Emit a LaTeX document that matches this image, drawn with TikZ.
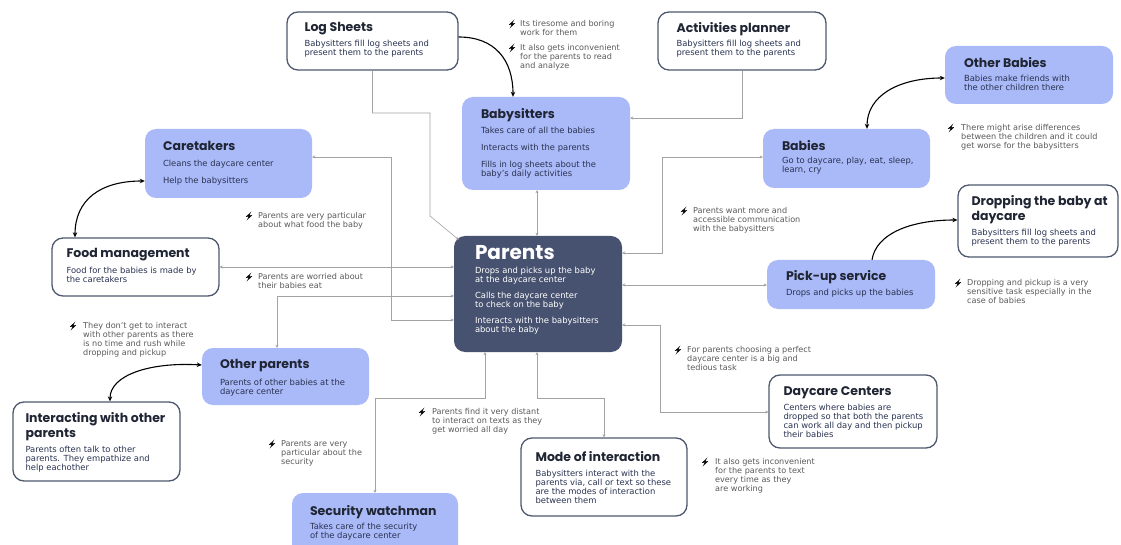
\documentclass[tikz,border=0pt]{standalone}
\usepackage{fontspec}
\setmainfont{DejaVu Sans}
\newfontfamily\headfont{Poppins}
\usetikzlibrary{arrows.meta,calc}

\definecolor{cardblue}{HTML}{AAB9F7}
\definecolor{navy}{HTML}{475270}
\definecolor{rim}{HTML}{4E586E}
\definecolor{ink}{HTML}{1F2533}
\definecolor{inkblue}{HTML}{2A3352}
\definecolor{note}{HTML}{5A5A5A}
\definecolor{wire}{HTML}{A3A3A3}

\tikzset{
  box/.style n args={4}{minimum width={#3-#1}, minimum height={#4-#2},
    at={({(#1+#3)/2},{(#2+#4)/2})}},
  card/.style={rectangle, rounded corners=11pt, inner sep=0pt},
  plaincard/.style={card, draw=rim, line width=1.3pt, fill=white},
  softcard/.style={card, fill=cardblue},
  darkcard/.style={card, fill=navy},
  cardhead/.style={anchor=north west, inner sep=0pt, align=left, text=ink,
    font=\headfont\bfseries\fontsize{12.5}{15}\selectfont},
  cardbody/.style={anchor=north west, inner sep=0pt, align=left, text=inkblue,
    font=\fontsize{8.4}{9}\selectfont},
  note/.style={anchor=north west, inner sep=0pt, align=left, text=note,
    font=\fontsize{8.1}{9}\selectfont},
  tip/.tip={Stealth[length=3pt,width=3pt]},
  wire/.style={draw=wire, line width=0.6pt, -tip},
  wirepair/.style={draw=wire, line width=0.6pt, tip-tip},
  bigtip/.tip={Stealth[length=5pt,width=4.5pt]},
  swoop/.style={draw=black, line width=1.1pt, -bigtip},
  swooppair/.style={draw=black, line width=1.1pt, bigtip-bigtip},
  bolt/.pic={\fill[black] (2.4,-4.6) -- (-3.2,0.9) -- (-0.3,0.6) -- (-2.4,4.6)
    -- (3.2,-0.9) -- (0.3,-0.6) -- cycle;}
}

\begin{document}
\begin{tikzpicture}[x=1pt,y=-1pt]
\fill[white] (0,0) rectangle (1121,545);
\useasboundingbox (0,0) rectangle (1121,545);

% ---------- cards ----------
\node[plaincard, box={287}{12}{458}{70}] (logs) {};
\node[cardhead] (logs-h) at ($(logs.north west)+(18,11)$) {Log Sheets};
\node[cardbody] (logs-b) at ($(logs.north west)+(18,29)$) {Babysitters fill log sheets and\\present them to the parents};

\node[plaincard, box={658}{12}{826}{70}] (act) {};
\node[cardhead] (act-h) at ($(act.north west)+(19,11)$) {Activities planner};
\node[cardbody] (act-b) at ($(act.north west)+(19,29)$) {Babysitters fill log sheets and\\present them to the parents};

\node[softcard, box={462}{97}{630}{190}] (sit) {};
\node[cardhead] (sit-h) at ($(sit.north west)+(19,11)$) {Babysitters};
\node[cardbody] (sit-b) at ($(sit.north west)+(19,30)$) {Takes care of all the babies\\[8pt]Interacts with the parents\\[8pt]Fills in log sheets about the\\baby's daily activities};

\node[softcard, box={145}{129}{312}{198}] (care) {};
\node[cardhead] (care-h) at ($(care.north west)+(18,12)$) {Caretakers};
\node[cardbody] (care-b) at ($(care.north west)+(18,31)$) {Cleans the daycare center\\[8pt]Help the babysitters};

\node[softcard, box={945}{46}{1113}{104}] (obab) {};
\node[cardhead] (obab-h) at ($(obab.north west)+(19,11)$) {Other Babies};
\node[cardbody] (obab-b) at ($(obab.north west)+(19,29)$) {Babies make friends with\\the other children there};

\node[softcard, box={763}{129}{930}{188}] (bab) {};
\node[cardhead] (bab-h) at ($(bab.north west)+(19,11)$) {Babies};
\node[cardbody] (bab-b) at ($(bab.north west)+(19,28)$) {Go to daycare, play, eat, sleep,\\learn, cry};

\node[plaincard, box={958}{185}{1118}{257}] (drop) {};
\node[cardhead] (drop-h) at ($(drop.north west)+(14,11)$) {Dropping the baby at\\daycare};
\node[cardbody] (drop-b) at ($(drop.north west)+(14,45)$) {Babysitters fill log sheets and\\present them to the parents};

\node[plaincard, box={52}{238}{219}{296}] (food) {};
\node[cardhead] (food-h) at ($(food.north west)+(15,11)$) {Food management};
\node[cardbody] (food-b) at ($(food.north west)+(15,30)$) {Food for the babies is made by\\the caretakers};

\node[darkcard, box={454}{236}{622}{352}] (par) {};
\node[cardhead, text=white, font=\headfont\bfseries\fontsize{20}{22}\selectfont] (par-h) at ($(par.north west)+(21,9)$) {Parents};
\node[cardbody, text=white] (par-b) at ($(par.north west)+(21,31)$) {Drops and picks up the baby\\at the daycare center\\[7pt]Calls the daycare center\\to check on the baby\\[7pt]Interacts with the babysitters\\about the baby};

\node[softcard, box={767}{260}{935}{309}] (pick) {};
\node[cardhead] (pick-h) at ($(pick.north west)+(19,10)$) {Pick-up service};
\node[cardbody] (pick-b) at ($(pick.north west)+(19,29)$) {Drops and picks up the babies};

\node[softcard, box={202}{348}{369}{405}] (opar) {};
\node[cardhead] (opar-h) at ($(opar.north west)+(18,11)$) {Other parents};
\node[cardbody] (opar-b) at ($(opar.north west)+(18,31)$) {Parents of other babies at the\\daycare center};

\node[plaincard, box={13}{402}{180}{481}] (inter) {};
\node[cardhead] (inter-h) at ($(inter.north west)+(13,11)$) {Interacting with other\\parents};
\node[cardbody] (inter-b) at ($(inter.north west)+(13,45)$) {Parents often talk to other\\parents. They empathize and\\help eachother};

\node[plaincard, box={769}{375}{937}{448}] (day) {};
\node[cardhead] (day-h) at ($(day.north west)+(15,12)$) {Daycare Centers};
\node[cardbody] (day-b) at ($(day.north west)+(15,30)$) {Centers where babies are\\dropped so that both the parents\\can work all day and then pickup\\their babies};

\node[plaincard, box={521}{438}{687}{516}] (mode) {};
\node[cardhead] (mode-h) at ($(mode.north west)+(15,14)$) {Mode of interaction};
\node[cardbody] (mode-b) at ($(mode.north west)+(15,33)$) {Babysitters interact with the\\parents via, call or text so these\\are the modes of interaction\\between them};

\node[softcard, box={292}{493}{458}{560}] (sec) {};
\node[cardhead] (sec-h) at ($(sec.north west)+(18,12)$) {Security watchman};
\node[cardbody] (sec-b) at ($(sec.north west)+(18,30)$) {Takes care of the security\\of the daycare center};

% ---------- grey connectors ----------
\draw[wire] (logs.south) -- (logs.south |- 0,113) -- (430,113) -- (430,216) -- ($(par.north west)+(5,4)$);
\draw[wire] (act.south) -- (act.south |- 0,118) -- (sit.east |- 0,118);
\draw[wirepair] (par.north -| 537,0) -- (sit.south -| 537,0);
\draw[wirepair] (par.west |- 0,320) -- (391,320) -- (391,157) -- (care.east |- 0,157);
\draw[wirepair] (par.west |- 0,267) -- (food.east |- 0,267);
\draw[wirepair] (par.west |- 0,296) -- (277,296) -- (opar.north -| 277,0);
\draw[wirepair] (par.east |- 0,253) -- (662,253) -- (662,157) -- (bab.west |- 0,157);
\draw[wirepair] (par.east |- 0,285) -- (pick.west |- 0,285);
\draw[wirepair] (par.east |- 0,325) -- (660,325) -- (660,412) -- (day.west |- 0,412);
\draw[wirepair] (par.south -| 537,0) -- (537,398) -- (604,398) -- (mode.north);
\draw[wirepair] (par.south -| 485,0) -- (485,398) -- (375,398) -- (sec.north);

% ---------- black curved links ----------
\draw[swoop] (logs.east |- 0,37) .. controls (495,37) and (513,60) .. (sit.north -| 513,0);
\draw[swooppair] (bab.north -| 867,0) .. controls (867,96) and (898,78) .. (obab.west |- 0,78);
\draw[swooppair] (care.west |- 0,181) .. controls (100,181) and (75,200) .. (food.north -| 75,0);
\draw[swoop] (pick.north -| 872,0) .. controls (876,234) and (910,220) .. (drop.west |- 0,220);
\draw[swooppair] (opar.west |- 0,365) .. controls (150,362) and (110,375) .. (inter.north -| 110,0);

% ---------- remarks ----------
\pic at (512,24) {bolt};
\node[note] (n1) at (520,20) {Its tiresome and boring\\work for them};
\pic at (512,48) {bolt};
\node[note] (n2) at (520,44) {It also gets inconvenient\\for the parents to read\\and analyze};
\pic at (951,128) {bolt};
\node[note] (n3) at (961,124) {There might arise differences\\between the children and it could\\get worse for the babysitters};
\pic at (249,216) {bolt};
\node[note] (n4) at (258,212) {Parents are very particular\\about what food the baby};
\pic at (249,277) {bolt};
\node[note] (n5) at (258,273) {Parents are worried about\\their babies eat};
\pic at (684,211) {bolt};
\node[note] (n6) at (693,207) {Parents want more and\\accessible communication\\with the babysitters};
\pic at (958,283) {bolt};
\node[note] (n7) at (967,279) {Dropping and pickup is a very\\sensitive task especially in the\\case of babies};
\pic at (73,326) {bolt};
\node[note] (n8) at (83,322) {They don't get to interact\\with other parents as there\\is no time and rush while\\dropping and pickup};
\pic at (678,350) {bolt};
\node[note] (n9) at (687,346) {For parents choosing a perfect\\daycare center is a big and\\tedious task};
\pic at (422,412) {bolt};
\node[note] (n10) at (432,408) {Parents find it very distant\\to interact on texts as they\\get worried all day};
\pic at (272,444) {bolt};
\node[note] (n11) at (281,440) {Parents are very\\particular about the\\security};
\pic at (705,462) {bolt};
\node[note] (n12) at (715,458) {It also gets inconvenient\\for the parents to text\\every time as they\\are working};
\end{tikzpicture}
\end{document}
